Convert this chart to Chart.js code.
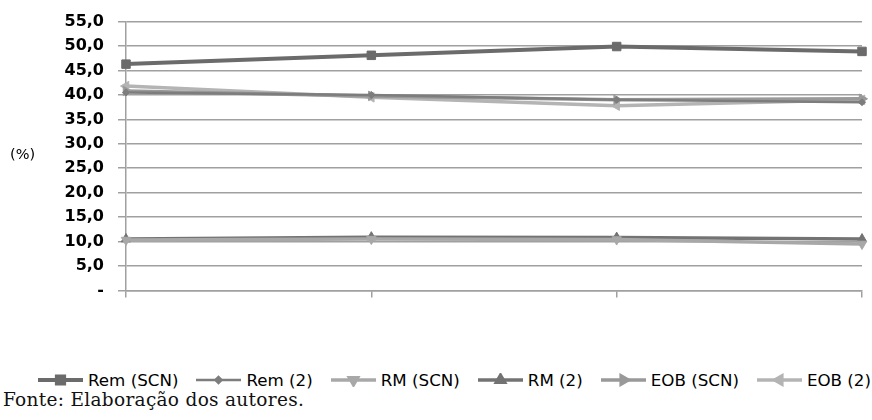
<!DOCTYPE html>
<html>
<head>
<meta charset="utf-8">
<script src="https://cdn.jsdelivr.net/npm/chart.js@4.4.1/dist/chart.umd.min.js"></script>
<style>
  html, body { margin:0; padding:0; background:#fff; }
  #wrap { position:relative; width:872px; height:420px; overflow:hidden; }
  #box { position:absolute; left:0; top:-2px; width:872px; height:316px; }
  #unit { position:absolute; left:10px; top:146px; font:14.5px "DejaVu Sans", sans-serif; color:#000; }
  #legend { position:absolute; left:38px; top:370px; display:flex; align-items:center; white-space:nowrap;
            font:16.7px "DejaVu Sans", sans-serif; color:#000; }
  #legend .it { display:flex; align-items:center; margin-right:18px; }
  #legend canvas { margin-right:5px; }
  #src { position:absolute; left:3px; top:389px; font:18.5px "DejaVu Serif", serif; letter-spacing:0.3px; color:#111; }
</style>
</head>
<body>
<div id="wrap">
  <div id="box"><canvas id="c"></canvas></div>
  <div id="unit">(%)</div>
  <div id="legend"></div>
  <div id="src">Fonte: Elaboração dos autores.</div>
</div>
<script>
// ---- data ----
const categories = ['', '', '', ''];
const seriesNames = ['Rem (SCN)', 'Rem (2)', 'RM (SCN)', 'RM (2)', 'EOB (SCN)', 'EOB (2)'];
const remSCN = [46.3, 48.1, 49.9, 48.9];
const rem2   = [40.5, 40.0, 39.0, 38.5];
const rmSCN  = [10.3, 10.5, 10.4, 9.5];
const rm2    = [10.5, 10.9, 10.8, 10.5];
const eobSCN = [40.8, 39.8, 39.0, 39.2];
const eob2   = [41.8, 39.5, 37.8, 39.0];
const yTicks = [0, 5, 10, 15, 20, 25, 30, 35, 40, 45, 50, 55];

const styles = [
  { color:'#6b6b6b', width:4,   point:'rect',     rot:0,   r:6 },
  { color:'#7d7d7d', width:2.5, point:'rectRot',  rot:0,   r:3.5 },
  { color:'#a8a8a8', width:3.5, point:'triangle', rot:180, r:5.5 },
  { color:'#737373', width:3.5, point:'triangle', rot:0,   r:5.5 },
  { color:'#999999', width:3.5, point:'triangle', rot:90,  r:5.5 },
  { color:'#b4b4b4', width:3.5, point:'triangle', rot:-90, r:5.5 }
];
const values = [remSCN, rem2, rmSCN, rm2, eobSCN, eob2];

function swatch(s) {
  const cv = document.createElement('canvas');
  cv.width = 45; cv.height = 14;
  const g = cv.getContext('2d');
  g.strokeStyle = s.color; g.lineWidth = s.width;
  g.beginPath(); g.moveTo(0, 7); g.lineTo(45, 7); g.stroke();
  g.fillStyle = s.color; g.strokeStyle = s.color;
  Chart.helpers.drawPoint(g, { pointStyle: s.point, rotation: s.rot, radius: s.r * 0.85, borderWidth: 1 }, 22.5, 7);
  g.fill();
  return cv;
}

const leg = document.getElementById('legend');
seriesNames.forEach((n, i) => {
  const it = document.createElement('div'); it.className = 'it';
  it.appendChild(swatch(styles[i]));
  const sp = document.createElement('span'); sp.textContent = n;
  it.appendChild(sp);
  leg.appendChild(it);
});

const datasets = seriesNames.map((n, i) => ({
  label: n,
  data: values[i],
  borderColor: styles[i].color,
  backgroundColor: styles[i].color,
  borderWidth: styles[i].width,
  pointStyle: styles[i].point,
  rotation: styles[i].rot,
  pointRadius: styles[i].r,
  pointHoverRadius: styles[i].r,
  pointBorderWidth: 1,
  tension: 0,
  fill: false
}));

new Chart(document.getElementById('c'), {
  type: 'line',
  data: { labels: categories, datasets: datasets },
  options: {
    responsive: true,
    maintainAspectRatio: false,
    animation: false,
    layout: { padding: { top: 15, right: 10, left: 0, bottom: 0 } },
    plugins: {
      tooltip: { enabled: false },
      legend: { display: false }
    },
    scales: {
      x: {
        type: 'category',
        offset: false,
        grid: { drawOnChartArea: false, drawTicks: true, tickLength: 7, color: '#a0a0a0', lineWidth: 1.5 },
        border: { color: '#a0a0a0', width: 1.5 },
        ticks: { display: false },
        afterFit: (s) => { s.height = 10; }
      },
      y: {
        min: 0, max: 55,
        afterBuildTicks: (s) => { s.ticks = yTicks.map(v => ({ value: v })); },
        grid: { color: '#a0a0a0', lineWidth: 1.5, tickLength: 8 },
        border: { color: '#a0a0a0', width: 1.5 },
        ticks: {
          padding: 14,
          color: '#000',
          font: { family: 'DejaVu Sans', size: 16, weight: 'bold' },
          callback: (v) => v === 0 ? '-' : v.toFixed(1).replace('.', ',')
        },
        afterFit: (s) => { s.width = 126; }
      }
    }
  }
});
</script>
</body>
</html>
